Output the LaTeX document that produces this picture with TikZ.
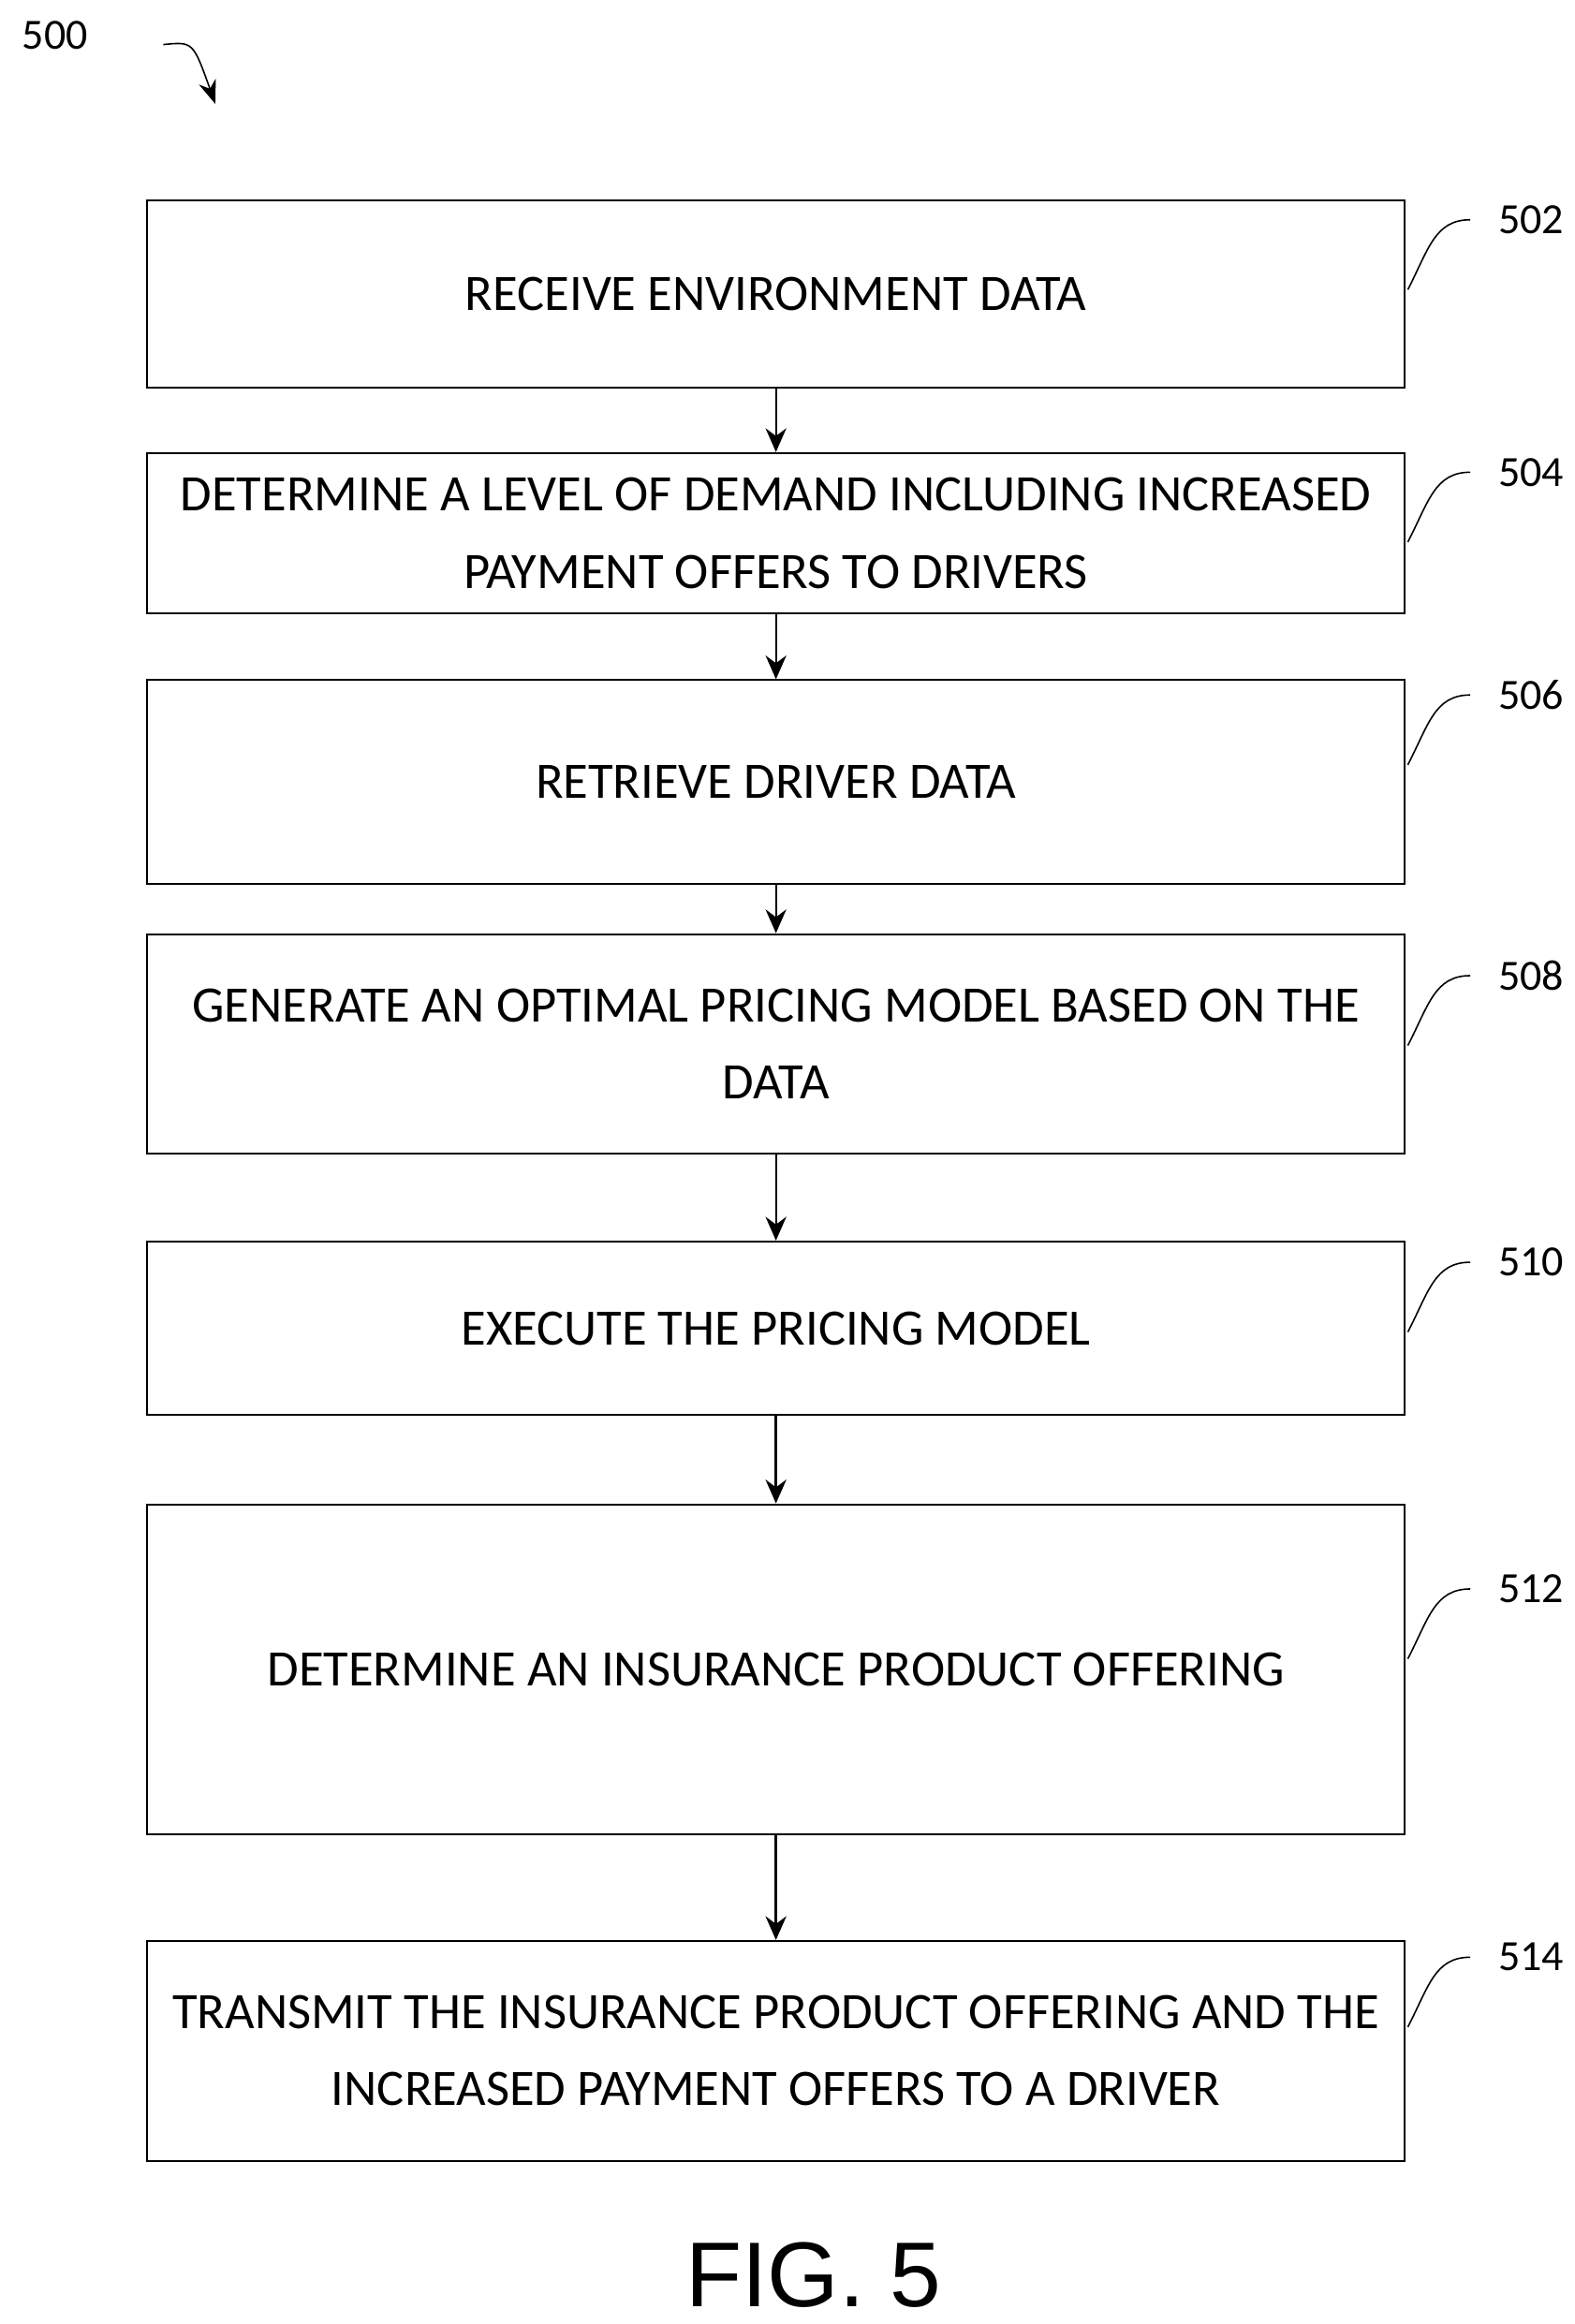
\documentclass[tikz,border=0pt]{standalone}
\usepackage{fontspec}
\setmainfont{Carlito}
\newfontfamily\figfont{Liberation Sans}
\usetikzlibrary{arrows.meta}
\begin{document}
\begin{tikzpicture}[x=0.5pt,y=-0.5pt,
	stepbox/.style={draw, line width=0.6pt, minimum width=423.5pt, align=center, font=\fontsize{17.2}{26}\selectfont, inner sep=0pt},
	flow/.style={-{Stealth[length=8pt,width=7pt]}, line width=0.6pt},
	tag/.style={font=\fontsize{14.5}{16}\selectfont, anchor=west}]
	\useasboundingbox (0,0) rectangle (1060,1565);
	\node (500) at (37,24) [font=\fontsize{14.5}{16}\selectfont] {500};
	\coordinate (c500) at (110,30);
	\draw[-{Stealth[length=8pt,width=6pt]}, line width=0.5pt] (c500) .. controls (130,28) .. (145,70);
	% steps
	\node (s502) at (522.5,198) [stepbox, minimum height=63pt] {RECEIVE ENVIRONMENT DATA};
	\node (s504) at (522.5,359) [stepbox, minimum height=54pt] {DETERMINE A LEVEL OF DEMAND INCLUDING INCREASED\\PAYMENT OFFERS TO DRIVERS};
	\node (s506) at (522.5,526.5) [stepbox, minimum height=68.5pt] {RETRIEVE DRIVER DATA};
	\node (s508) at (522.5,703) [stepbox, minimum height=74pt] {GENERATE AN OPTIMAL PRICING MODEL BASED ON THE\\DATA};
	\node (s510) at (522.5,894.5) [stepbox, minimum height=58.5pt] {EXECUTE THE PRICING MODEL};
	\node (s512) at (522.5,1124) [stepbox, minimum height=111pt] {DETERMINE AN INSURANCE PRODUCT OFFERING};
	\node (s514) at (522.5,1381) [stepbox, minimum height=74pt] {TRANSMIT THE INSURANCE PRODUCT OFFERING AND THE\\INCREASED PAYMENT OFFERS TO A DRIVER};
	\draw[flow] (s502) -- (s504);
	\draw[flow] (s504) -- (s506);
	\draw[flow] (s506) -- (s508);
	\draw[flow] (s508) -- (s510);
	\draw[flow, line width=1pt] (s510) -- (s512);
	\draw[flow, line width=1pt] (s512) -- (s514);
	% reference numerals
	\foreach \n/\ly in {502/148, 504/318, 506/468, 508/657, 510/850, 512/1070, 514/1318}{
		\node (t\n) at (1002,\ly) [tag] {\n};
		\draw[line width=0.5pt] (948,\ly+47) .. controls (962,\ly+20) and (966,\ly) .. (990,\ly);
	}
	\node (fig) at (548,1532) [font=\figfont\fontsize{31}{36}\selectfont] {FIG. 5};
\end{tikzpicture}
\end{document}
